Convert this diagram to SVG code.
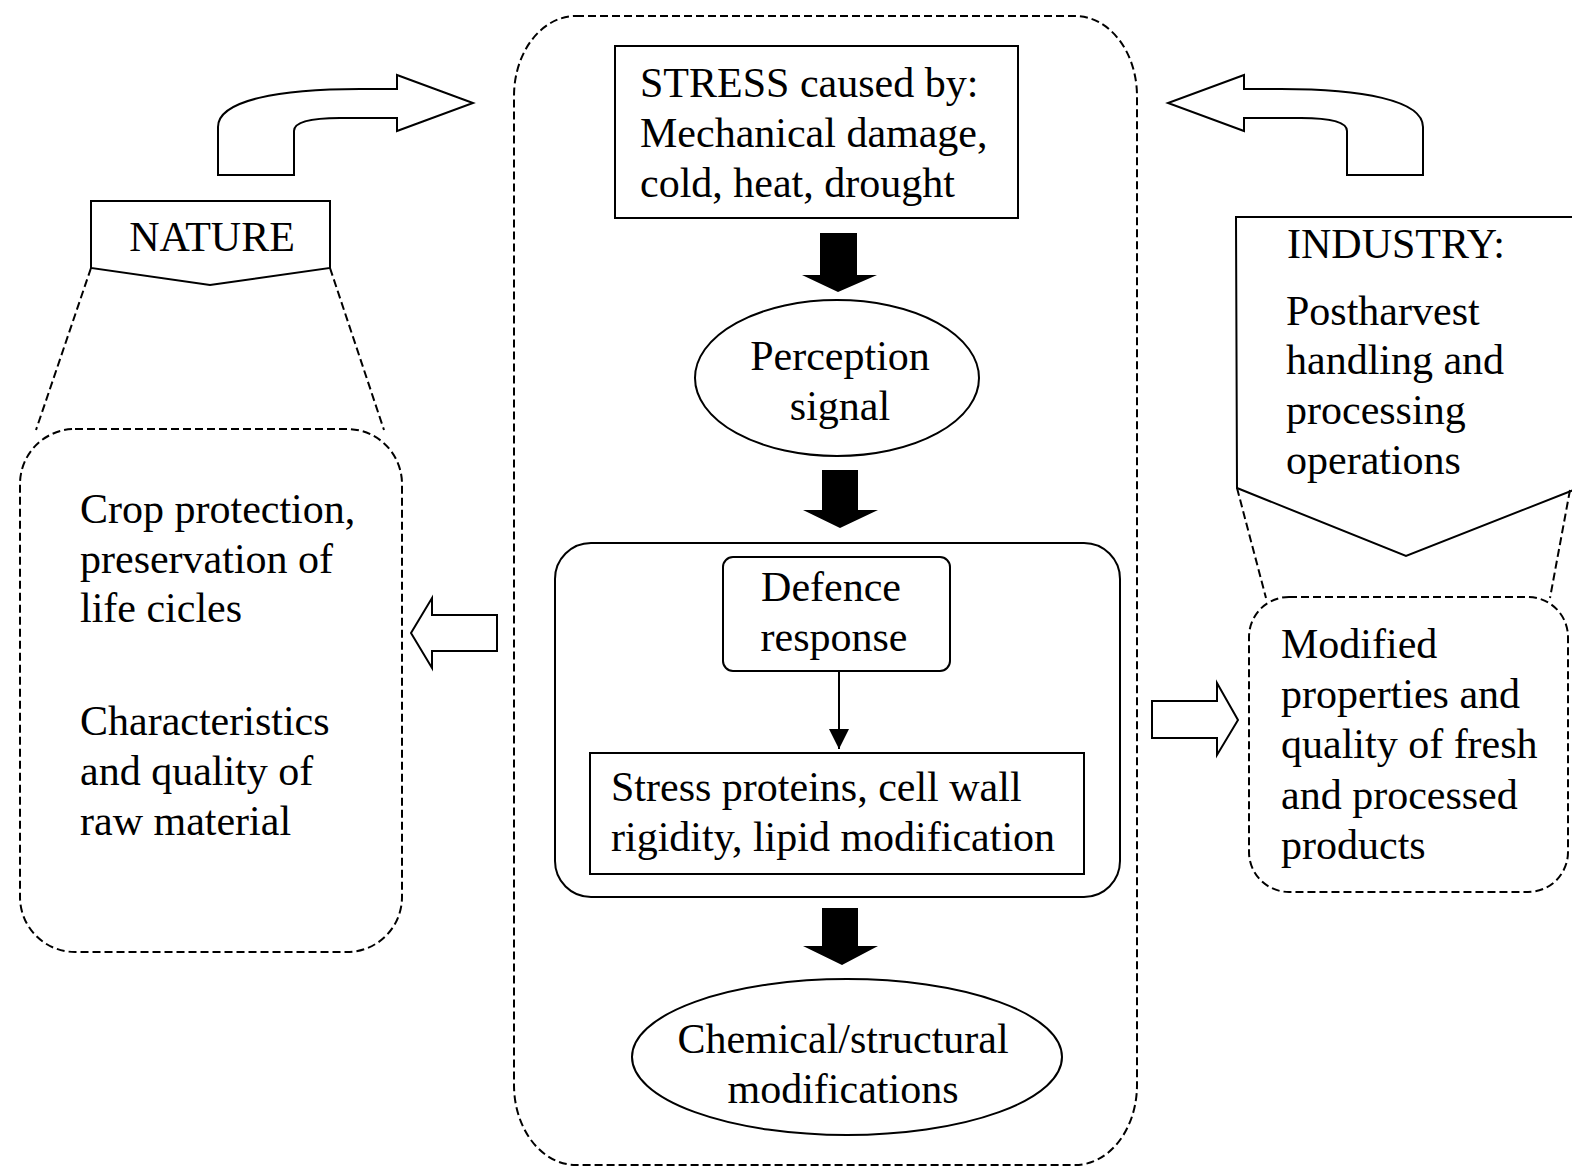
<svg xmlns="http://www.w3.org/2000/svg" width="1572" height="1170" viewBox="0 0 1572 1170">
<style>
.t{font-family:"Liberation Serif","Times New Roman",serif;font-size:42px;fill:#000}
.s{fill:#fff;stroke:#000;stroke-width:2}
.d{fill:none;stroke:#000;stroke-width:2;stroke-dasharray:8 4}
.b{fill:#000;stroke:none}
</style>
<defs>
<marker id="ah" markerWidth="20" markerHeight="20" refX="20" refY="10" orient="auto" markerUnits="userSpaceOnUse">
<path d="M0,0 L20,10 L0,20 Z" fill="#000"/>
</marker>
<path id="curv" d="M218 175 V127 C218 100 280 89 360 89 H397 V75 L473 103 L397 131 V118 H340 C310 118 294 122 294 131 V175 Z"/>
</defs>
<rect width="1572" height="1170" fill="#fff"/>

<g id="center-container">
<rect class="d" x="514" y="16" width="623" height="1149" rx="62" ry="80"/>
</g>

<g id="stress">
<rect class="s" x="615" y="46" width="403" height="172"/>
<text class="t" x="640" y="97">STRESS caused by:</text>
<text class="t" x="640" y="147">Mechanical damage,</text>
<text class="t" x="640" y="197">cold, heat, drought</text>
</g>

<g id="perception">
<ellipse class="s" cx="837" cy="378" rx="142" ry="78"/>
<text class="t" x="840" y="370" text-anchor="middle">Perception</text>
<text class="t" x="840" y="420" text-anchor="middle">signal</text>
</g>

<g id="defence-group">
<rect class="s" x="555" y="543" width="565" height="354" rx="36"/>
</g>

<g id="defence">
<rect class="s" x="723" y="557" width="227" height="114" rx="10"/>
<text class="t" x="831" y="601" text-anchor="middle">Defence</text>
<text class="t" x="834" y="651" text-anchor="middle">response</text>
</g>

<g id="proteins">
<rect class="s" x="590" y="753" width="494" height="121"/>
<text class="t" x="611" y="801">Stress proteins, cell wall</text>
<text class="t" x="611" y="851">rigidity, lipid modification</text>
</g>

<g id="chemical">
<ellipse class="s" cx="847" cy="1057" rx="215" ry="78"/>
<text class="t" x="843" y="1053" text-anchor="middle">Chemical/structural</text>
<text class="t" x="843" y="1103" text-anchor="middle">modifications</text>
</g>

<g id="nature">
<path class="s" d="M91 201 H330 V268 L210 285 L91 268 Z"/>
<text class="t" x="212" y="251" text-anchor="middle">NATURE</text>
</g>

<g id="nature-box">
<rect class="d" x="20" y="429" width="382" height="523" rx="55"/>
<text class="t" x="80" y="523">Crop protection,</text>
<text class="t" x="80" y="573">preservation of</text>
<text class="t" x="80" y="622">life cicles</text>
<text class="t" x="80" y="735">Characteristics</text>
<text class="t" x="80" y="785">and quality of</text>
<text class="t" x="80" y="835">raw material</text>
</g>

<g id="industry">
<path class="s" d="M1236 217 H1576 V489 L1406 556 L1237 488 Z"/>
<text class="t" x="1287" y="258">INDUSTRY:</text>
<text class="t" x="1286" y="325">Postharvest</text>
<text class="t" x="1286" y="374">handling and</text>
<text class="t" x="1286" y="424">processing</text>
<text class="t" x="1286" y="474">operations</text>
</g>

<g id="industry-box">
<rect class="d" x="1249" y="597" width="319" height="295" rx="40"/>
<text class="t" x="1281" y="658">Modified</text>
<text class="t" x="1281" y="708">properties and</text>
<text class="t" x="1281" y="758">quality of fresh</text>
<text class="t" x="1281" y="809">and processed</text>
<text class="t" x="1281" y="859">products</text>
</g>

<g id="connectors">
<use href="#curv" class="s"/>
<use href="#curv" class="s" transform="translate(1641,0) scale(-1,1)"/>
<path class="d" d="M91 268 L36 430 M330 268 L384 430"/>
<path class="d" d="M1237 488 L1266 598 M1570 490 L1550 598"/>
<path class="s" d="M497 615 H432 V598 L411 633 L432 668 V651 H497 Z"/>
<path class="s" d="M1152 701 H1217 V683 L1238 720 L1217 755 V738 H1152 Z"/>
<path class="b" d="M820 233 H857 V275 H877 L838 292 L802 275 H820 Z"/>
<path class="b" d="M822 470 H858 V510 H878 L840 528 L803 510 H822 Z"/>
<path class="b" d="M822 908 H858 V946 H878 L842 965 L803 946 H822 Z"/>
<line x1="839" y1="672" x2="839" y2="749" stroke="#000" stroke-width="2" marker-end="url(#ah)"/>
</g>
</svg>
